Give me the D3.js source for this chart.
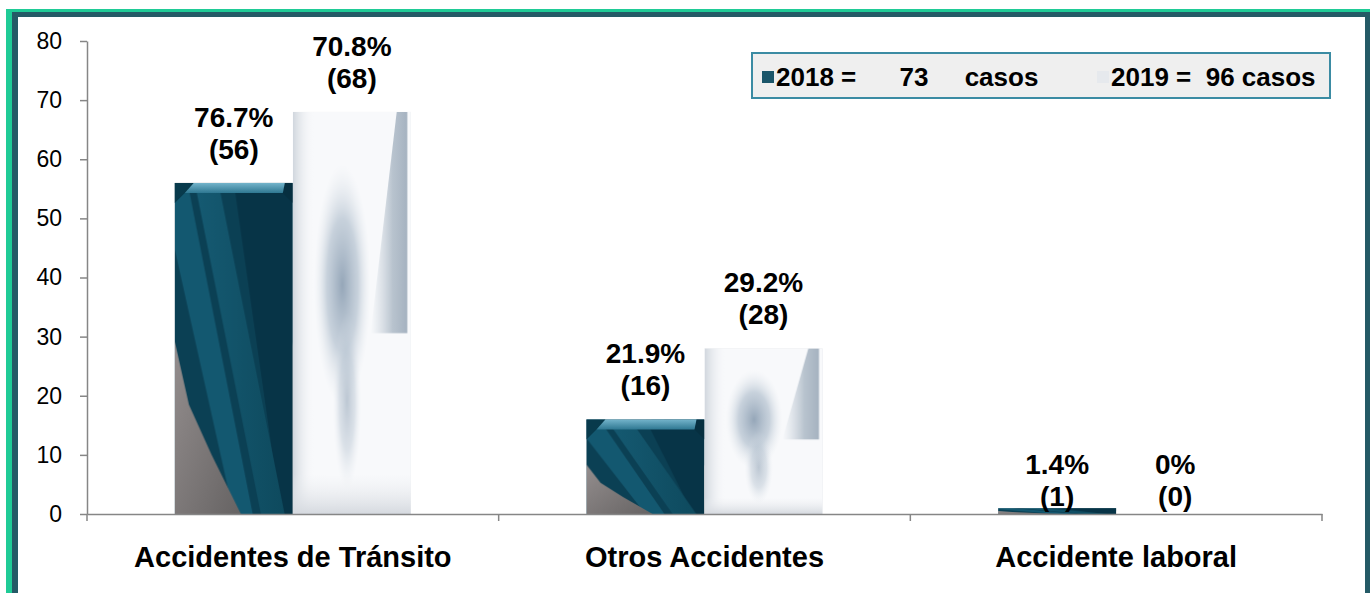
<!DOCTYPE html>
<html>
<head>
<meta charset="utf-8">
<script src="https://cdn.jsdelivr.net/npm/d3@7"></script>
<style>
  html, body { margin: 0; padding: 0; background: #fff; }
  svg { display: block; font-family: Arial, "Liberation Sans", sans-serif; }
</style>
</head>
<body>
<svg id="chart" width="1370" height="593"></svg>
<script>
var categories = ["Accidentes de Tránsito", "Otros Accidentes", "Accidente laboral"];
var years = ["2018", "2019"];
var values2018 = [56, 16, 1];
var values2019 = [68, 28, 0];
var pct2018 = ["76.7%", "21.9%", "1.4%"];
var pct2019 = ["70.8%", "29.2%", "0%"];
var yTicks = [0, 10, 20, 30, 40, 50, 60, 70, 80];
var legendLabels = ["2018 =      73     casos", "2019 =  96 casos"];

var width = 1370, height = 593;
var svg = d3.select("#chart");

// frame round the picture
svg.append("rect").attr("x", 6).attr("y", 9).attr("width", width - 6).attr("height", height - 9).attr("fill", "#1fcb96");
svg.append("rect").attr("x", 12).attr("y", 12).attr("width", width - 12).attr("height", height - 12).attr("fill", "#245a66");
svg.append("rect").attr("x", 18).attr("y", 17).attr("width", width - 23).attr("height", height - 17).attr("fill", "#fff");

var defs = svg.append("defs");

function grad(id, x2, y2, stops) {
    var g = defs.append("linearGradient").attr("id", id)
        .attr("x1", 0).attr("y1", 0).attr("x2", x2).attr("y2", y2);
    stops.forEach(function (s) {
        g.append("stop").attr("offset", s[0]).attr("stop-color", s[1]).attr("stop-opacity", s[2] === undefined ? 1 : s[2]);
    });
}
grad("gGray", 1, 1, [[0, "#948e8e"], [1, "#666363"]]);
grad("gTeal", 1, 0, [[0, "#155a72"], [1, "#0e4a5e"]]);
grad("gBevel", 0, 1, [[0, "#74b4cb"], [1, "#2f7892"]]);
grad("gLeft", 1, 0, [[0, "#d0d6dd"], [1, "#f6f7f9", 0]]);
grad("gRight", 1, 0, [[0, "#c9d2db", 0], [0.6, "#b8c3ce"], [1, "#a5b2c0"]]);
grad("gBottom", 0, 1, [[0, "#eceef1", 0], [1, "#d5d9df"]]);
var rg = defs.append("radialGradient").attr("id", "gFig");
rg.append("stop").attr("offset", 0).attr("stop-color", "#8a9db1").attr("stop-opacity", 0.9);
rg.append("stop").attr("offset", 0.55).attr("stop-color", "#adbccb").attr("stop-opacity", 0.65);
rg.append("stop").attr("offset", 1).attr("stop-color", "#dfe5eb").attr("stop-opacity", 0);

// 2018 picture fill, stretched over each bar
var p18 = defs.append("pattern").attr("id", "tex2018")
    .attr("patternUnits", "objectBoundingBox").attr("patternContentUnits", "objectBoundingBox")
    .attr("width", 1).attr("height", 1);
p18.append("rect").attr("width", 1).attr("height", 1).attr("fill", "#0b4054");
p18.append("polygon").attr("points", "0.5,0 1,0 1,1 0.9,1").attr("fill", "#073447");
p18.append("polygon").attr("points", "0.17,0 0.37,0 0.93,1 0.73,1").attr("fill", "url(#gTeal)");
p18.append("polygon").attr("points", "0,0.02 0.12,0.02 0.66,1 0.5,1 0,0.2").attr("fill", "#135870");
p18.append("polygon").attr("points", "0,0.48 0.12,0.67 0.31,0.82 0.56,1 0,1").attr("fill", "url(#gGray)");

// 2019 picture fill
var p19 = defs.append("pattern").attr("id", "tex2019")
    .attr("patternUnits", "objectBoundingBox").attr("patternContentUnits", "objectBoundingBox")
    .attr("width", 1).attr("height", 1);
p19.append("rect").attr("width", 1).attr("height", 1).attr("fill", "#f8f9fb");
p19.append("rect").attr("width", 0.18).attr("height", 1).attr("fill", "url(#gLeft)");
p19.append("polygon").attr("points", "0.88,0 0.97,0 0.97,0.55 0.66,0.55").attr("fill", "url(#gRight)");
p19.append("ellipse").attr("cx", 0.42).attr("cy", 0.43).attr("rx", 0.24).attr("ry", 0.3).attr("fill", "url(#gFig)");
p19.append("ellipse").attr("cx", 0.46).attr("cy", 0.72).attr("rx", 0.12).attr("ry", 0.22).attr("fill", "url(#gFig)").attr("opacity", 0.6);
p19.append("rect").attr("y", 0.9).attr("width", 1).attr("height", 0.1).attr("fill", "url(#gBottom)");

var y = d3.scaleLinear().domain([0, 80]).range([514, 41]);
var x = d3.scaleBand().domain(categories).range([87, 1322]).padding(0);
var xs = d3.scaleBand().domain(years).range([0, x.bandwidth()]).paddingInner(0).paddingOuter(0.744);

// y axis
var yAxis = svg.append("g").attr("transform", "translate(87,0)")
    .call(d3.axisLeft(y).tickValues(yTicks).tickSize(7).tickSizeOuter(0).tickPadding(18));
yAxis.select(".domain").attr("stroke", "#868686").attr("stroke-width", 1.5);
yAxis.selectAll(".tick line").attr("stroke", "#868686").attr("stroke-width", 1.5);
yAxis.selectAll(".tick text").attr("font-size", 23).attr("fill", "#000")
    .style("font-family", "Arial, 'Liberation Sans', sans-serif");

// bars
var rows = categories.map(function (c, i) {
    return [
        { cat: c, year: "2018", v: values2018[i], pct: pct2018[i] },
        { cat: c, year: "2019", v: values2019[i], pct: pct2019[i] }
    ];
});
var flat = d3.merge(rows);

var bars = svg.append("g").selectAll("g").data(flat).enter().append("g")
    .attr("transform", function (d) { return "translate(" + (x(d.cat) + xs(d.year)) + ",0)"; });

bars.filter(function (d) { return d.v > 0; }).append("rect")
    .attr("x", 0)
    .attr("y", function (d) { return y(d.v); })
    .attr("width", xs.bandwidth())
    .attr("height", function (d) { return y(0) - y(d.v); })
    .attr("fill", function (d) { return "url(#tex" + d.year + ")"; });

// bevel on top of the dark bars
var tall18 = bars.filter(function (d) { return d.year === "2018" && y(0) - y(d.v) > 20; });
tall18.append("polygon")
    .attr("points", function (d) {
        var t = y(d.v), w = xs.bandwidth(), b = 10;
        return [[0, t], [w, t], [w - b, t + b], [b, t + b]].join(" ");
    })
    .attr("fill", "url(#gBevel)");
tall18.append("polygon")
    .attr("points", function (d) {
        var t = y(d.v), w = xs.bandwidth(), b = 10;
        return [[0, t], [w * 0.16, t], [b, t + b], [0, t + b * 2]].join(" ");
    })
    .attr("fill", "#083a4c");
tall18.append("polygon")
    .attr("points", function (d) {
        var t = y(d.v), w = xs.bandwidth(), b = 10;
        return [[w, t], [w - 8, t], [w - b, t + b], [w, t + b * 2]].join(" ");
    })
    .attr("fill", "#062f40");

// value labels
function labelBase(d) {
    return d.v < 5 ? y(0) - 8 : y(d.v) - 24;
}
var labels = bars.append("text")
    .attr("text-anchor", "middle")
    .attr("font-size", 28)
    .attr("font-weight", "bold")
    .attr("fill", "#000");
labels.append("tspan")
    .attr("x", xs.bandwidth() / 2)
    .attr("y", function (d) { return labelBase(d) - 32; })
    .text(function (d) { return d.pct; });
labels.append("tspan")
    .attr("x", xs.bandwidth() / 2)
    .attr("y", labelBase)
    .text(function (d) { return "(" + d.v + ")"; });

// x axis
var xAxis = svg.append("g").attr("transform", "translate(0," + y(0) + ")")
    .call(d3.axisBottom(x).tickSize(0).tickPadding(32));
xAxis.select(".domain").attr("stroke", "#868686").attr("stroke-width", 1.5);
xAxis.selectAll(".tick text").attr("font-size", 29).attr("font-weight", "bold").attr("fill", "#000")
    .style("font-family", "Arial, 'Liberation Sans', sans-serif");
var bounds = categories.map(function (c) { return x(c); }).concat([x.range()[1]]);
xAxis.selectAll(".bound").data(bounds).enter().append("line")
    .attr("x1", function (d) { return d; }).attr("x2", function (d) { return d; })
    .attr("y1", 0).attr("y2", 7)
    .attr("stroke", "#868686").attr("stroke-width", 1.5);

// legend
var legend = svg.append("g").attr("transform", "translate(752,53)");
legend.append("rect").attr("width", 578).attr("height", 45)
    .attr("fill", "#efefef").attr("stroke", "#3b8ba3").attr("stroke-width", 2);
var legendX = [10, 345];
var li = legend.selectAll(".item").data(years).enter().append("g")
    .attr("transform", function (d, i) { return "translate(" + legendX[i] + ",0)"; });
li.append("rect").attr("x", 0).attr("y", 18).attr("width", 12).attr("height", 12)
    .attr("fill", function (d) { return d === "2018" ? "#1b566a" : "#e6e9ed"; });
li.append("text").attr("x", 14).attr("y", 33)
    .attr("font-size", 26).attr("font-weight", "bold").attr("fill", "#000")
    .style("white-space", "pre")
    .text(function (d, i) { return legendLabels[i]; });
</script>
</body>
</html>
